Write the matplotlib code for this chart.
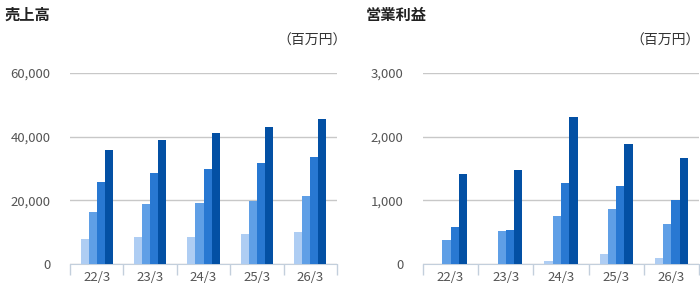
import numpy as np
import matplotlib
matplotlib.use("Agg")
import matplotlib.pyplot as plt

plt.rcParams['font.family'] = ['Noto Sans CJK JP', 'DejaVu Sans']

# ---- data ----
years = ["22/3", "23/3", "24/3", "25/3", "26/3"]

sales_s1 = [7900, 8500, 8500, 9500, 10100]
sales_s2 = [16400, 18900, 19300, 19900, 21500]
sales_s3 = [25900, 28700, 30000, 31600, 33500]
sales_s4 = [35700, 38800, 41000, 42900, 45500]

op_s1 = [0, 0, 50, 160, 100]
op_s2 = [380, 520, 760, 870, 635]
op_s3 = [585, 540, 1280, 1220, 1000]
op_s4 = [1420, 1470, 2310, 1890, 1660]

sales_ticks = [0, 20000, 40000, 60000]
op_ticks = [0, 1000, 2000, 3000]

colors = ["#aecdf3", "#5f9fe6", "#2878d2", "#0350a4"]
tick_col = "#c3cfdc"
txt_col = "#555555"


def draw(ax, series, yticks, title, title_x, unit_x):
    x = np.arange(len(years))
    w = 0.15
    for i, (vals, c) in enumerate(zip(series, colors)):
        ax.bar(x + (i - 1.5) * w, vals, width=w, color=c, zorder=3)
    ax.set_xlim(-0.5, len(years) - 0.5)
    ax.set_ylim(0, yticks[-1])
    ax.set_yticks(yticks)
    ax.set_yticklabels([f"{v:,}" for v in yticks], fontsize=9.5, color=txt_col)
    ax.yaxis.grid(True, color="#c8c8c8", linewidth=1, zorder=0)
    ax.tick_params(axis="y", length=0, pad=14)
    # category boundary ticks
    ax.set_xticks(np.arange(len(years) + 1) - 0.5)
    ax.set_xticklabels([])
    ax.set_xticks(x, minor=True)
    ax.set_xticklabels(years, minor=True, fontsize=9.5, color=txt_col)
    ax.tick_params(axis="x", which="major", length=8, color=tick_col, width=1)
    ax.tick_params(axis="x", which="minor", length=0, pad=5)
    for s in ["top", "right", "left"]:
        ax.spines[s].set_visible(False)
    ax.spines["bottom"].set_color(tick_col)
    ax.set_axisbelow(True)
    fig.text(title_x, 1 - 15 / 288, title, fontsize=11, fontweight="bold",
             color="#222222", va="center", ha="left")
    fig.text(unit_x, 1 - 41 / 288, "（百万円）", fontsize=10,
             color="#333333", va="center", ha="right")


fig = plt.figure(figsize=(7, 2.88), dpi=100)
ax1 = fig.add_axes([70 / 700, 24 / 288, 267 / 700, 191 / 288])
ax2 = fig.add_axes([423 / 700, 24 / 288, 276 / 700, 191 / 288])

draw(ax1, [sales_s1, sales_s2, sales_s3, sales_s4], sales_ticks, "売上高", 5 / 700, 347 / 700)
draw(ax2, [op_s1, op_s2, op_s3, op_s4], op_ticks, "営業利益", 366 / 700, 700 / 700)

fig.savefig("out.png", dpi=100)
